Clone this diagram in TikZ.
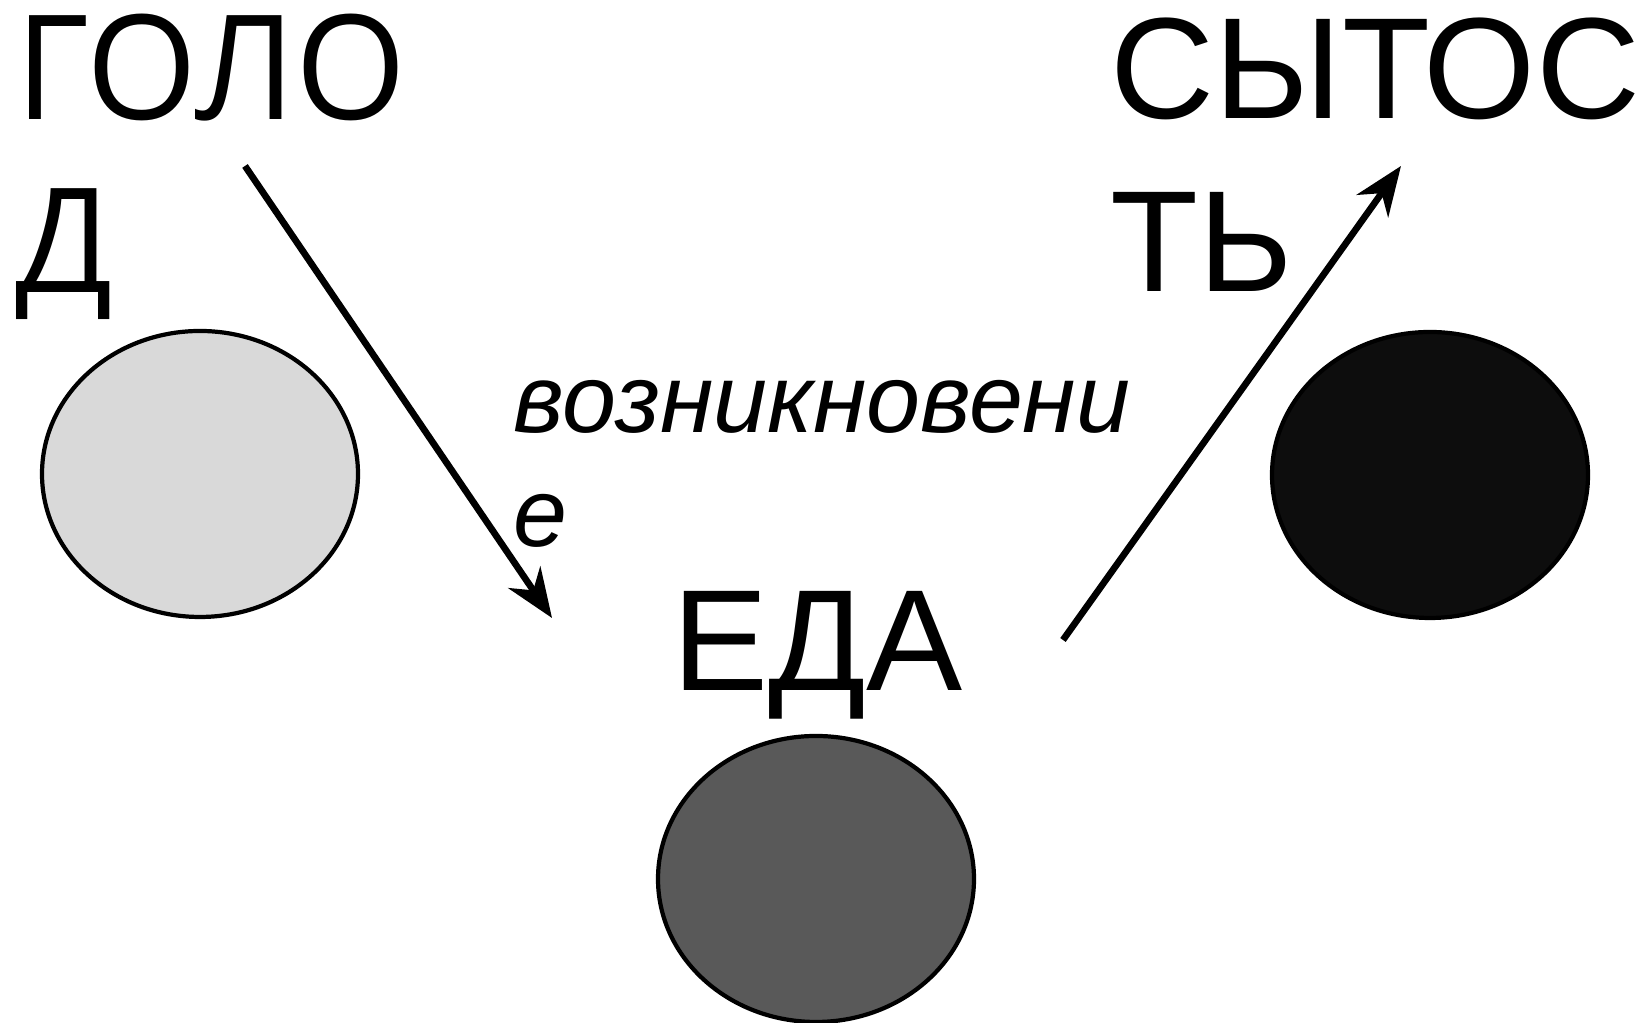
\documentclass[tikz,border=0pt]{standalone}
\usepackage{fontspec}
\setmainfont{Liberation Sans}
\newfontfamily\golodfont[FakeStretch=0.98]{Open Sans}
\usetikzlibrary{shapes.geometric, arrows.meta}

\definecolor{lightblob}{HTML}{D9D9D9}
\definecolor{midblob}{HTML}{595959}
\definecolor{darkblob}{HTML}{0D0D0D}

\begin{document}
\begin{tikzpicture}[
	blob/.style={ellipse, draw, line width=1.2pt, minimum width=3.16cm, minimum height=2.86cm, inner sep=0pt},
	bigword/.style={anchor=base west, inner sep=0pt, align=left, font={\fontsize{41}{49.5}\selectfont}},
	pointer/.style={line width=1.9pt, -{Stealth[length=14pt, width=11pt, inset=4.5pt]}}
]
	\useasboundingbox (0,0) rectangle (16.42,10.23);

	\node[blob, fill=lightblob] (hungerblob) at (2.00, 5.49) {};
	\node[blob, fill=darkblob] (fullblob) at (14.30, 5.48) {};
	\node[blob, fill=midblob] (foodblob) at (8.16, 1.44) {};

	% base anchor sits on the last line
	\node[bigword, font={\golodfont\fontsize{41.4}{49.5}\selectfont}] (hunger) at (0.15, 7.30) {ГОЛО\\Д};
	\node[bigword] (full) at (11.10, 7.31) {СЫТОС\\ТЬ};
	\node[bigword] (food) at (6.72, 3.32) {ЕДА};
	\node[anchor=base west, inner sep=0pt, align=left, font={\itshape\fontsize{27.6}{32.7}\selectfont}] (rise) at (5.13, 4.76) {возникновени\\е};

	\coordinate (hungerL) at (2.45, 8.57);
	\coordinate (foodR) at (5.52, 4.05);
	\coordinate (foodL) at (10.63, 3.83);
	\coordinate (fullR) at (14.01, 8.57);

	\draw[pointer] (hungerL) -- (foodR);
	\draw[pointer] (foodL) -- (fullR);
\end{tikzpicture}
\end{document}
